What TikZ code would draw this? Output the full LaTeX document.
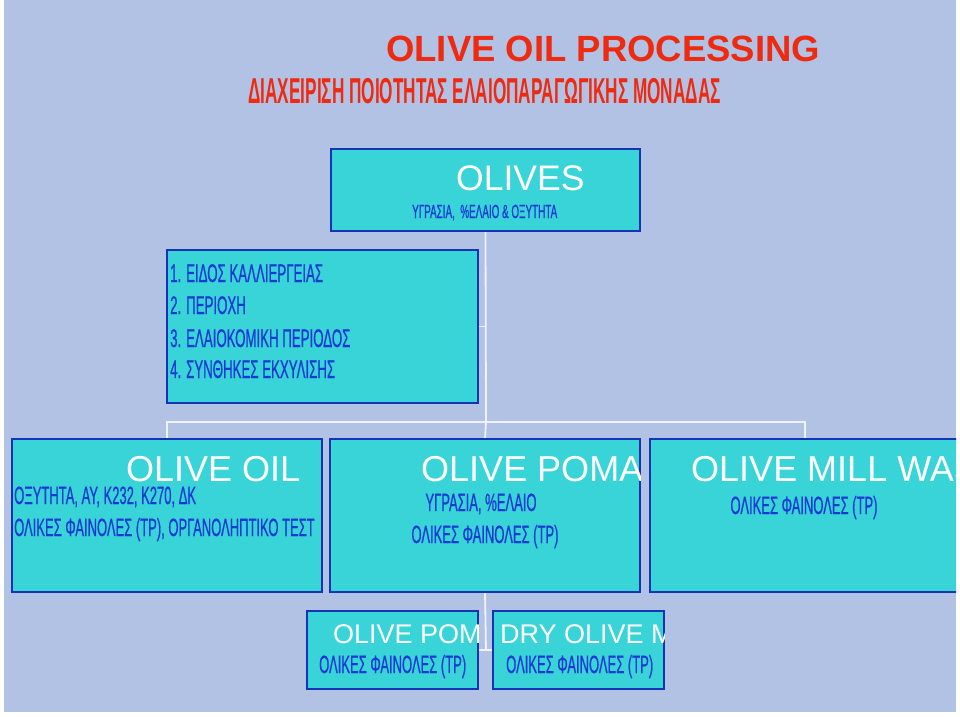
\documentclass[tikz,border=0pt]{standalone}
\usepackage{fontspec}
\usetikzlibrary{backgrounds}
\setmainfont{Liberation Sans}
\newfontfamily\narrowfont[FakeStretch=0.52,FakeBold=0.6]{Liberation Sans}
\newfontfamily\narrowboldfont[FakeStretch=0.478]{Liberation Sans Bold}
\definecolor{bg}{HTML}{B1C2E4}
\definecolor{boxfill}{HTML}{38D4D8}
\definecolor{boxline}{HTML}{1434B4}
\definecolor{bluetext}{HTML}{1A3AD4}
\definecolor{redtext}{HTML}{EE2A10}
\definecolor{connc}{HTML}{EEF2FA}
\tikzset{
  orgbox/.style={rectangle, draw=boxline, fill=boxfill, line width=1.5pt, inner sep=0pt, outer sep=0pt, anchor=north west},
  connline/.style={draw=connc, line width=1.8pt},
  bigtext/.style={text=white, inner sep=0pt, anchor=base west},
  bluetxt/.style={text=bluetext, inner sep=0pt, anchor=base west},
}
\newcommand{\fsz}[1]{\fontsize{#1}{#1}\selectfont}
\begin{document}
\begin{tikzpicture}[x=1pt,y=-1pt]
\useasboundingbox (0,0) rectangle (960,716);
\begin{scope}
\clip (4,0) rectangle (956,712);
% boxes
\node[orgbox, minimum width=309pt, minimum height=82pt] (olives) at (331,149) {};
\node[orgbox, minimum width=311pt, minimum height=153pt] (factors) at (167,250) {};
\node[orgbox, minimum width=310pt, minimum height=153pt] (oil) at (12,439) {};
\node[orgbox, minimum width=310pt, minimum height=153pt] (pomace) at (330,439) {};
\node[orgbox, minimum width=340pt, minimum height=153pt] (omw) at (650,439) {};
\node[orgbox, minimum width=171pt, minimum height=78pt] (pom2) at (307,611) {};
\node[orgbox, minimum width=171pt, minimum height=78pt] (dry) at (493,611) {};
\end{scope}
\coordinate (hub) at (486,422);
\coordinate (omwtop) at (805,439);
\coordinate (hubb) at (486,650);
\begin{scope}[on background layer]
\fill[bg] (4,0) rectangle (956,712);
\draw[connline] (olives.south) -- (hub);
\draw[connline] (oil.north) |- (hub) -| (omwtop);
\draw[connline] (hub) -- (pomace.north);
\draw[connline] (factors.east) -- (factors.east -| hub);
\draw[connline] (pomace.south) -- (hubb);
\draw[connline] (pom2.east) -- (dry.west);
\end{scope}
% titles
\node[text=redtext, inner sep=0pt, anchor=base west, font=\bfseries\fsz{36.5}] (title) at (386,61) {OLIVE OIL PROCESSING};
\node[text=redtext, inner sep=0pt, anchor=base west, font=\narrowboldfont\fsz{36}] (subtitle) at (248,103) {ΔΙΑΧΕΙΡΙΣΗ ΠΟΙΟΤΗΤΑΣ ΕΛΑΙΟΠΑΡΑΓΩΓΙΚΗΣ ΜΟΝΑΔΑΣ};
% texts
\node[bigtext, font=\fsz{35.5}] (tolives) at (456,190) {OLIVES};
\node[bluetxt, font=\narrowfont\fsz{19}] (tolives2) at (412,218) {ΥΓΡΑΣΙΑ, \ \%ΕΛΑΙΟ \& ΟΞΥΤΗΤΑ};
\node[bluetxt, font=\narrowfont\fsz{25.5}] (f1) at (170,282) {1. ΕΙΔΟΣ ΚΑΛΛΙΕΡΓΕΙΑΣ};
\node[bluetxt, font=\narrowfont\fsz{25.5}] (f2) at (170,314) {2. ΠΕΡΙΟΧΗ};
\node[bluetxt, font=\narrowfont\fsz{25.5}] (f3) at (170,347) {3. ΕΛΑΙΟΚΟΜΙΚΗ ΠΕΡΙΟΔΟΣ};
\node[bluetxt, font=\narrowfont\fsz{25.5}] (f4) at (170,378) {4. ΣΥΝΘΗΚΕΣ ΕΚΧΥΛΙΣΗΣ};
\begin{scope}
\clip (oil.north west) rectangle (oil.south east);
\node[bigtext, font=\fsz{36}] (toil) at (126,481) {OLIVE OIL};
\node[bluetxt, font=\narrowfont\fsz{25}] (toil1) at (14,504) {ΟΞΥΤΗΤΑ, ΑΥ, Κ232, Κ270, ΔΚ};
\node[bluetxt, font=\narrowfont\fsz{25}] (toil2) at (14,536) {ΟΛΙΚΕΣ ΦΑΙΝΟΛΕΣ (ΤΡ), ΟΡΓΑΝΟΛΗΠΤΙΚΟ ΤΕΣΤ};
\end{scope}
\begin{scope}
\clip (pomace.north west) rectangle (pomace.south east);
\node[bigtext, font=\fsz{36}] (tpom) at (421,481) {OLIVE POMACE};
\node[bluetxt, anchor=base, font=\narrowfont\fsz{25}] (tpom1) at (481,511) {ΥΓΡΑΣΙΑ, \%ΕΛΑΙΟ};
\node[bluetxt, anchor=base, font=\narrowfont\fsz{25}] (tpom2) at (485,543) {ΟΛΙΚΕΣ ΦΑΙΝΟΛΕΣ (ΤΡ)};
\end{scope}
\begin{scope}
\clip (omw.north west) rectangle (956,592);
\node[bigtext, font=\fsz{36}] (tomw) at (691,481) {OLIVE MILL WASTEWATER};
\node[bluetxt, anchor=base, font=\narrowfont\fsz{25}] (tomw1) at (804,514) {ΟΛΙΚΕΣ ΦΑΙΝΟΛΕΣ (ΤΡ)};
\end{scope}
\begin{scope}
\clip (pom2.north west) rectangle (pom2.south east);
\node[bigtext, font=\fsz{27}] (tpom2a) at (333,643) {OLIVE POMACE};
\node[bluetxt, font=\narrowfont\fsz{25}] (tpom2b) at (319,673) {ΟΛΙΚΕΣ ΦΑΙΝΟΛΕΣ (ΤΡ)};
\end{scope}
\begin{scope}
\clip (dry.north west) rectangle (dry.south east);
\node[bigtext, font=\fsz{27}] (tdrya) at (500,643) {DRY OLIVE MILL WASTE};
\node[bluetxt, font=\narrowfont\fsz{25}] (tdryb) at (506,673) {ΟΛΙΚΕΣ ΦΑΙΝΟΛΕΣ (ΤΡ)};
\end{scope}
\end{tikzpicture}
\end{document}
